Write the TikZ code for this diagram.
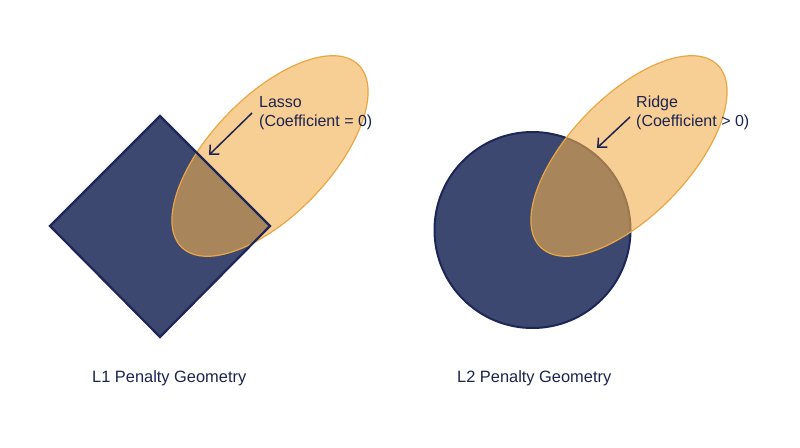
\documentclass[tikz,border=0pt]{standalone}
\usepackage{fontspec}
\setmainfont{Liberation Sans}
\usetikzlibrary{arrows.meta}
\definecolor{navyfill}{HTML}{3D4870}
\definecolor{navyline}{HTML}{1C2757}
\definecolor{orangefill}{HTML}{F2AE4E}
\definecolor{orangeline}{HTML}{E9A745}
\definecolor{txt}{HTML}{1C244F}
\tikzset{
  penalty/.style={fill=navyfill, draw=navyline, line width=2pt},
  contour/.style={fill=orangefill, fill opacity=0.6, draw=orangeline, draw opacity=1, line width=1.2pt},
  lbl/.style={anchor=base west, inner sep=0pt, text=txt, font=\fontsize{16}{19}\selectfont},
  geomcaption/.style={anchor=base west, inner sep=0pt, text=txt, font=\fontsize{16.4}{20}\selectfont},
  pointer/.style={draw=txt, line width=1.5pt, -{Straight Barb[length=7pt,width=13pt]}}
}
\begin{document}
\begin{tikzpicture}[x=1pt,y=-1pt]
\useasboundingbox (0,0) rectangle (800,447);
\fill[white] (0,0) rectangle (800,447);
% left: L1 diamond
\fill[navyfill] (160,116) -- (270,226) -- (160,337) -- (50,226) -- cycle;
\draw[contour, shift={(270,156)}, rotate=46] (0,0) ellipse [x radius=127pt, y radius=59.5pt];
\draw[draw=navyline, line width=2.2pt, line join=miter] (160,116) -- (270,226) -- (160,337) -- (50,226) -- cycle;
% right: L2 circle
\draw[penalty] (532.5,230) circle [radius=98pt];
\draw[contour, shift={(629,156)}, rotate=46] (0,0) ellipse [x radius=127pt, y radius=59.5pt];
% labels
\node[lbl] (lasso) at (259,107) {Lasso};
\node[lbl] (lassocoef) at (259,126) {(Coefficient = 0)};
\node[lbl] (ridge) at (636,107) {Ridge};
\node[lbl] (ridgecoef) at (636,126) {(Coefficient > 0)};
\coordinate (lassofrom) at (252,113);
\coordinate (lassoto) at (209,155);
\coordinate (ridgefrom) at (630,117);
\coordinate (ridgeto) at (597,148);
\draw[pointer] (lassofrom) -- (lassoto);
\draw[pointer] (ridgefrom) -- (ridgeto);
\node[geomcaption] (l1) at (92,382) {L1 Penalty Geometry};
\node[geomcaption] (l2) at (457,382) {L2 Penalty Geometry};
\end{tikzpicture}
\end{document}
